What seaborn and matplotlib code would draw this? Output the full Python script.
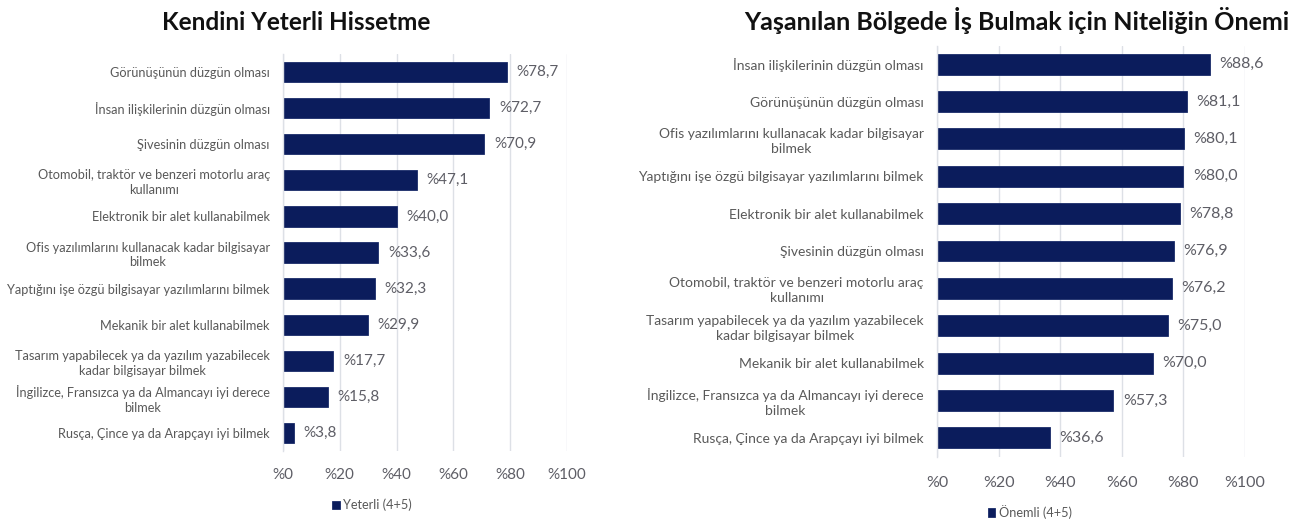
import matplotlib
matplotlib.use("Agg")
import matplotlib.pyplot as plt
import seaborn as sns
import pandas as pd

left_labels = [
    "Görünüşünün düzgün olması",
    "İnsan ilişkilerinin düzgün olması",
    "Şivesinin düzgün olması",
    "Otomobil, traktör ve benzeri motorlu araç\nkullanımı",
    "Elektronik bir alet kullanabilmek",
    "Ofis yazılımlarını kullanacak kadar bilgisayar\nbilmek",
    "Yaptığını işe özgü bilgisayar yazılımlarını bilmek",
    "Mekanik bir alet kullanabilmek",
    "Tasarım yapabilecek ya da yazılım yazabilecek\nkadar bilgisayar bilmek",
    "İngilizce, Fransızca ya da Almancayı iyi derece\nbilmek",
    "Rusça, Çince ya da Arapçayı iyi bilmek",
]
left_values = [78.7, 72.7, 70.9, 47.1, 40.0, 33.6, 32.3, 29.9, 17.7, 15.8, 3.8]

right_labels = [
    "İnsan ilişkilerinin düzgün olması",
    "Görünüşünün düzgün olması",
    "Ofis yazılımlarını kullanacak kadar bilgisayar\nbilmek",
    "Yaptığını işe özgü bilgisayar yazılımlarını bilmek",
    "Elektronik bir alet kullanabilmek",
    "Şivesinin düzgün olması",
    "Otomobil, traktör ve benzeri motorlu araç\nkullanımı",
    "Tasarım yapabilecek ya da yazılım yazabilecek\nkadar bilgisayar bilmek",
    "Mekanik bir alet kullanabilmek",
    "İngilizce, Fransızca ya da Almancayı iyi derece\nbilmek",
    "Rusça, Çince ya da Arapçayı iyi bilmek",
]
right_values = [88.6, 81.1, 80.1, 80.0, 78.8, 76.9, 76.2, 75.0, 70.0, 57.3, 36.6]

x_ticks = [0, 20, 40, 60, 80, 100]
x_tick_labels = ["%0", "%20", "%40", "%60", "%80", "%100"]

left_title = "Kendini Yeterli Hissetme"
right_title = "Yaşanılan Bölgede İş Bulmak için Niteliğin Önemi"
left_legend = "Yeterli (4+5)"
right_legend = "Önemli (4+5)"

sns.set_theme(style="white")
plt.rcParams["font.family"] = ["Lato", "DejaVu Sans"]

BAR = "#0B1C5C"
GREY = "#595959"
VGREY = "#5E5E66"
GRID = "#DDE0E6"

fig = plt.figure(figsize=(12.95, 5.21), dpi=100)
W, H = 1295, 521

def frac_box(x0, x1, ytop, ybot):
    return [x0 / W, 1 - ybot / H, (x1 - x0) / W, (ybot - ytop) / H]

ax1 = fig.add_axes(frac_box(283, 567, 54, 451))
ax2 = fig.add_axes(frac_box(937, 1245, 45.5, 456.5))

def draw(ax, labels, values, legend, lab_fs, val_fs, tick_fs, tick_pad, legend_xy):
    df = pd.DataFrame({"label": labels, "value": values})
    sns.barplot(data=df, x="value", y="label", color=BAR, saturation=1,
                width=0.56, ax=ax, label=legend, edgecolor="#1A2C6A", linewidth=0.6)
    ax.set_xlim(0, 100)
    ax.set_ylim(len(labels) - 0.5, -0.5)
    ax.set_xticks(x_ticks)
    ax.set_xticklabels(x_tick_labels, fontsize=tick_fs, color=VGREY)
    ax.set_yticks(range(len(labels)))
    ax.set_yticklabels(labels, fontsize=lab_fs, color=GREY, multialignment="center",
                       linespacing=1.3)
    ax.tick_params(axis="y", length=0, pad=9.5)
    ax.tick_params(axis="x", length=0, pad=tick_pad)
    ax.set_xlabel("")
    ax.set_ylabel("")
    ax.grid(axis="x", color=GRID, linewidth=1)
    ax.set_axisbelow(True)
    for s in ["top", "right", "bottom"]:
        ax.spines[s].set_visible(False)
    ax.spines["left"].set_color(GRID)
    ax.spines["left"].set_linewidth(1)
    cont = ax.containers[0]
    ax.bar_label(cont, labels=["%" + f"{v:.1f}".replace(".", ",") for v in values],
                 padding=7, fontsize=val_fs, color=VGREY)
    ax.legend(loc="center", bbox_to_anchor=legend_xy, bbox_transform=fig.transFigure,
              frameon=False, fontsize=9.2, handlelength=0.6, handleheight=0.6,
              handletextpad=0.3, labelcolor=GREY)

draw(ax1, left_labels, left_values, left_legend, 9.2, 11, 11, 12, (372 / W, 1 - 505 / H))
draw(ax2, right_labels, right_values, right_legend, 10.0, 11.5, 11.5, 14, (1030 / W, 1 - 512 / H))

fig.text(296 / W, 1 - 22 / H, left_title, ha="center", va="center",
         fontsize=17.5, fontweight="bold", color="#111111")
fig.text(1017 / W, 1 - 20 / H, right_title, ha="center", va="center",
         fontsize=18, fontweight="bold", color="#111111")

fig.savefig("out.png", dpi=100)
